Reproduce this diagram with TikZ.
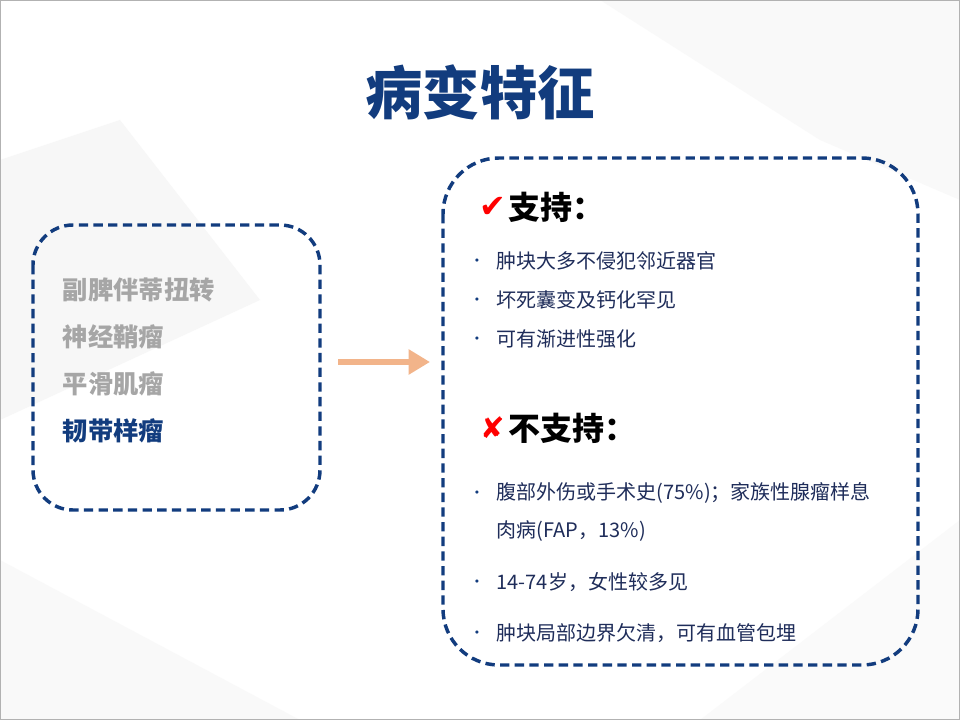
\documentclass[tikz,border=0pt]{standalone}
\usepackage{fontspec}
\setmainfont{Noto Sans CJK SC}
\newfontfamily\djv{DejaVu Sans}
\usetikzlibrary{arrows.meta}
\definecolor{navy}{HTML}{123C7E}
\definecolor{txt}{HTML}{1F2D5A}
\definecolor{gtxt}{HTML}{A6A6A6}
\definecolor{org}{HTML}{F2B48A}
\tikzset{
 dbox/.style={draw=navy,line width=2.6pt,dash pattern=on 7pt off 4pt},
 lt/.style={anchor=west,font=\bfseries\fontsize{19}{22}\selectfont},
 bt/.style={anchor=west,text=txt,font=\fontsize{15}{18}\selectfont},
 bul/.style={text=navy,font=\djv\fontsize{8}{8}\selectfont},
 hd/.style={anchor=west,font=\bfseries\fontsize{24}{28}\selectfont}
}
\begin{document}
\begin{tikzpicture}[x=0.75pt,y=-0.75pt]
\useasboundingbox (0,0) rectangle (960,720);
\fill[white] (0,0) rectangle (960,720);
\fill[gray!6] (0,160) -- (120,120) -- (260,300) -- (0,420) -- cycle;
\fill[gray!5] (600,0) -- (960,0) -- (960,200) -- (820,140) -- cycle;
\fill[gray!5] (0,560) -- (300,720) -- (0,720) -- cycle;
\fill[gray!4] (700,720) -- (960,520) -- (960,720) -- cycle;
\draw[gray!60,line width=0.8pt] (0.5,0.5) rectangle (959.5,719.5);
\node[text=navy,font=\bfseries\fontsize{43}{50}\selectfont] (title) at (480,92) {病变特征};
\draw[dbox,rounded corners=30pt] (33,225) rectangle (320,510);
\node[lt,text=gtxt] (l1) at (58,290) {副脾伴蒂扭转};
\node[lt,text=gtxt] (l2) at (58,337) {神经鞘瘤};
\node[lt,text=gtxt] (l3) at (58,384) {平滑肌瘤};
\node[lt,text=navy] (l4) at (58,431) {韧带样瘤};
\coordinate (a1) at (338,362); \coordinate (a2) at (430,362);
\draw[org,line width=5pt,-{Triangle[length=16pt,width=18pt]}] (a1) -- (a2);
\draw[dbox,rounded corners=42pt] (443,158) rectangle (918,665);
\node[anchor=center,text=red,font=\djv\fontsize{24}{28}\selectfont] (c1) at (493,207) {✔};
\node[hd] (h1) at (504,207) {支持：};
\foreach \y/\t in {261/肿块大多不侵犯邻近器官,300/坏死囊变及钙化罕见,339/可有渐进性强化}{
 \node[bul] at (477,\y+1) {•}; \node[bt] at (492,\y) {\t};}
\node[anchor=center,text=red,font=\djv\fontsize{22}{28}\selectfont] (c2) at (493,428) {✘};
\node[hd] (h2) at (504,428) {不支持：};
\foreach \y/\t in {493/腹部外伤或手术史(75\%)；家族性腺瘤样息,582/14-74岁，女性较多见,633/肿块局部边界欠清，可有血管包埋}{
 \node[bul] at (477,\y+1) {•}; \node[bt] at (492,\y) {\t};}
\node[bt] at (492,531) {肉病(FAP，13\%)};
\end{tikzpicture}
\end{document}
